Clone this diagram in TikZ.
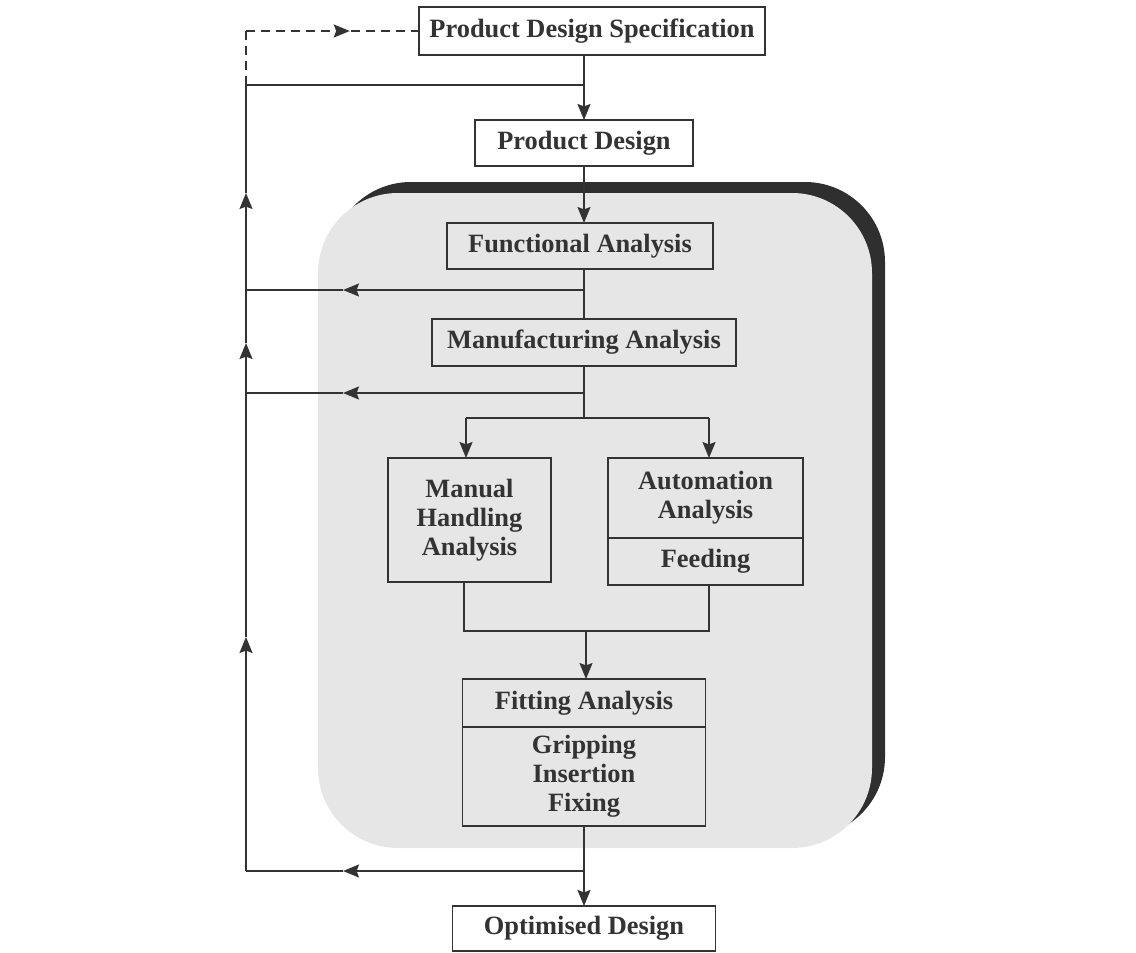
\documentclass[tikz,border=0pt]{standalone}
\usepackage{fontspec}
\setmainfont{Liberation Serif}
\usetikzlibrary{arrows.meta,decorations.markings}
\definecolor{ink}{HTML}{333333}
\definecolor{panelgray}{HTML}{E6E6E6}
\definecolor{shadowgray}{HTML}{2F2F2F}
\begin{document}
\begin{tikzpicture}[x=0.5pt,y=-0.5pt,
  every node/.style={inner sep=0pt, outer sep=0pt},
  box/.style={draw=ink, line width=0.85pt, align=center, text=ink,
    font=\fontsize{13.2}{14.6}\selectfont\bfseries},
  wire/.style={draw=ink, line width=0.85pt},
  tip/.style={-{Stealth[length=8pt,width=6.5pt,inset=1.2pt]}},
  arr/.style={wire, tip},
  midtip/.style={postaction={decorate}, decoration={markings,
    mark=at position #1 with {\arrow[solid,fill=ink,draw=ink]{Stealth[length=8pt,width=6.5pt,inset=1.2pt]}}}},
]
\useasboundingbox (0,0) rectangle (1136,953);

% shaded panel behind the analysis stages, with its dark offset shadow
\fill[shadowgray, rounded corners=40pt] (331,182) rectangle (885,837);
\fill[panelgray, rounded corners=40pt] (318,193) rectangle (872,848);

% process boxes
\node[box, minimum width=173pt, minimum height=24pt] (pds) at (592,31) {Product Design Specification};
\node[box, minimum width=109pt, minimum height=23pt] (pd) at (584,143) {Product Design};
\node[box, minimum width=133pt, minimum height=23pt] (fa) at (580,246) {Functional Analysis};
\node[box, minimum width=152pt, minimum height=23.5pt] (ma) at (584,342.5) {Manufacturing Analysis};
\node[box, minimum width=81.5pt, minimum height=62pt] (mh) at (469.5,520) {Manual\\Handling\\Analysis};
\node[box, minimum width=97.5pt, minimum height=40pt] (au1) at (705.5,498) {Automation\\Analysis};
\node[box, minimum width=97.5pt, minimum height=23.5pt] (au2) at (705.5,561.5) {Feeding};
\node[box, minimum width=121.5pt, minimum height=24pt] (fit1) at (584,703) {Fitting Analysis};
\node[box, minimum width=121.5pt, minimum height=49.5pt] (fit2) at (584,776.5) {Gripping\\Insertion\\Fixing};
\node[box, minimum width=131.5pt, minimum height=22.5pt] (od) at (584,928.5) {Optimised Design};

% junction points of the feedback loop
\coordinate (ltop) at (246,31);
\coordinate (l0) at (246,85);
\coordinate (j0) at (584,85);
\coordinate (l1) at (246,290);
\coordinate (j1) at (584,290);
\coordinate (h1) at (343,290);
\coordinate (l2) at (246,393);
\coordinate (j2) at (584,393);
\coordinate (h2) at (343,393);
\coordinate (l3) at (246,871);
\coordinate (j3) at (584,871);
\coordinate (h3) at (343,871);
\coordinate (u1) at (246,193);
\coordinate (u2) at (246,343);
\coordinate (u3) at (246,637);
\coordinate (b0) at (584,418);
\coordinate (bL) at (466,418);
\coordinate (bR) at (709,418);
\coordinate (mL) at (464,631);
\coordinate (mR) at (709,631);
\coordinate (m0) at (586,631);

% main flow
\draw[arr] (pds.south -| j0) -- (pd.north);
\draw[arr] (pd.south) -- (pd.south |- fa.north);
\draw[wire] (j1 |- fa.south) -- (ma.north);
\draw[wire] (ma.south) -- (b0);
\draw[wire] (bL) -- (bR);
\draw[arr] (bL) -- (bL |- mh.north);
\draw[arr] (bR) -- (bR |- au1.north);
\draw[wire] (mL |- mh.south) -- (mL) -- (mR) -- (mR |- au2.south);
\draw[arr] (m0) -- (m0 |- fit1.north);
\draw[arr] (fit2.south) -- (od.north);

% feedback branches
\draw[arr] (j1) -- (h1);
\draw[wire] (h1) -- (l1);
\draw[arr] (j2) -- (h2);
\draw[wire] (h2) -- (l2);
\draw[arr] (j3) -- (h3);
\draw[wire] (h3) -- (l3);

% return line up the left side
\draw[arr] (l3) -- (u3);
\draw[wire] (u3) -- (l2);
\draw[arr] (l2) -- (u2);
\draw[wire] (u2) -- (l1);
\draw[arr] (l1) -- (u1);
\draw[wire] (u1) -- (l0);
\draw[wire] (l0) -- (j0);

% dashed link back to the specification
\draw[wire, dashed, dash pattern=on 4.5pt off 3pt] (l0) -- (ltop);
\draw[wire, dashed, dash pattern=on 4.5pt off 3pt, midtip=0.60] (ltop) -- (pds.west);
\end{tikzpicture}
\end{document}
